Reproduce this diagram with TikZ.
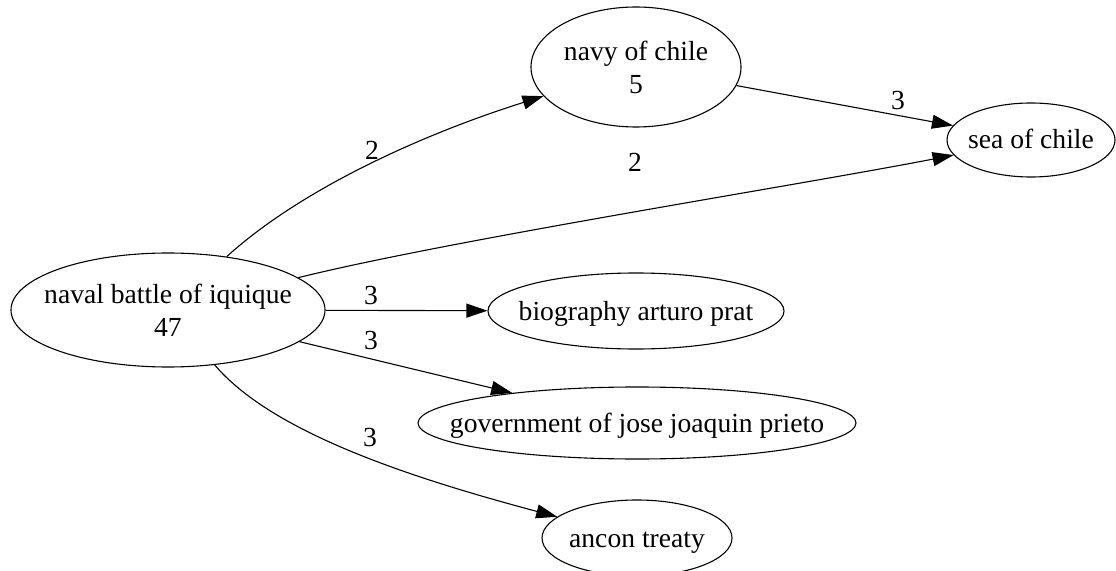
\documentclass[tikz,border=0pt]{standalone}
\usepackage{fontspec}
\setmainfont{Liberation Serif}
\usetikzlibrary{shapes.geometric,arrows.meta}
\begin{document}
\begin{tikzpicture}[x=1bp,y=-1bp,
  every node/.style={font=\fontsize{27.6bp}{33bp}\selectfont},
  topic/.style={draw,ellipse,inner sep=0pt,line width=1.1bp},
  txt/.style={inner sep=0pt,text height=19bp,text depth=1bp},
  txttwo/.style={inner sep=0pt,align=center},
  lbl/.style={inner sep=0pt,text height=19bp,text depth=0bp},
  link/.style={draw,line width=1.1bp,-{Triangle[length=21bp,width=14bp]}}]
\useasboundingbox (0,0) rectangle (1116,571);
\node[topic,minimum width=314bp,minimum height=114bp,
  label={[txttwo]center:naval battle of iquique\\47}] (naval) at (168,310) {};
\node[topic,minimum width=210bp,minimum height=120bp,
  label={[txttwo]center:navy of chile\\5}] (navy) at (636,67) {};
\node[topic,minimum width=168bp,minimum height=74bp,
  label={[txt]center:sea of chile}] (sea) at (1031,140) {};
\node[topic,minimum width=296bp,minimum height=76bp,
  label={[txt]center:biography arturo prat}] (bio) at (636,311) {};
\node[topic,minimum width=438bp,minimum height=72bp,
  label={[txt]center:government of jose joaquin prieto}] (gov) at (637,423) {};
\node[topic,minimum width=190bp,minimum height=76bp,
  label={[txt]center:ancon treaty}] (ancon) at (637,538) {};

\draw[link] (naval) .. controls (300,190) and (420,135) .. (navy);
\draw[link] (naval) .. controls (450,240) and (800,185) .. (sea);
\draw[link] (navy) -- (sea);
\draw[link] (naval) -- (bio);
\draw[link] (naval) -- (gov);
\draw[link] (naval) .. controls (270,430) and (400,475) .. (ancon);

\node[lbl] (w1) at (372,150) {2};
\node[lbl] (w2) at (635,162) {2};
\node[lbl] (w3) at (898,100) {3};
\node[lbl] (w4) at (371,295) {3};
\node[lbl] (w5) at (371,340) {3};
\node[lbl] (w6) at (370,437) {3};
\end{tikzpicture}
\end{document}
